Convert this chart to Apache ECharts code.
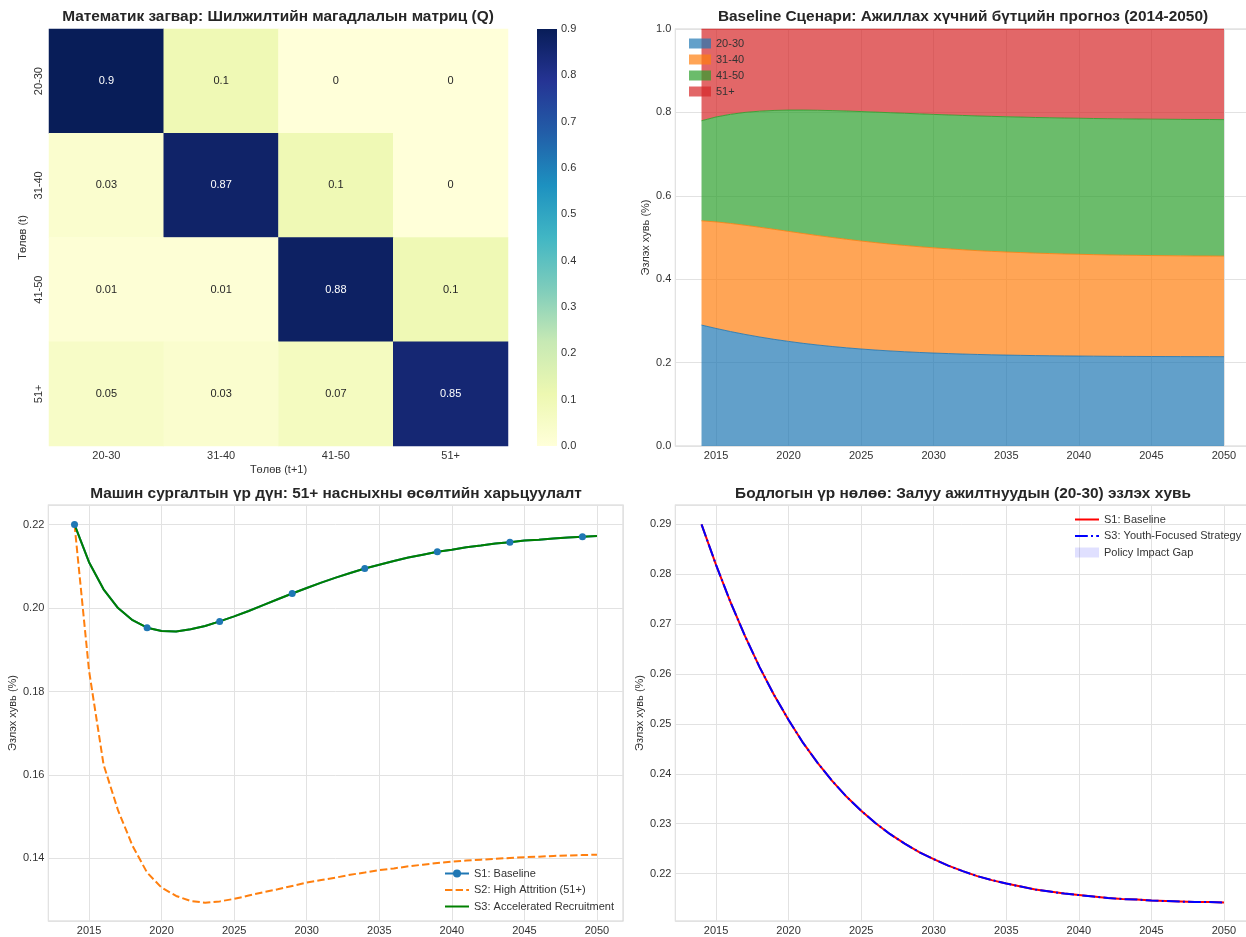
<!DOCTYPE html>
<html>
<head>
<meta charset="utf-8">
<script src="https://cdn.jsdelivr.net/npm/echarts@6/dist/echarts.min.js"></script>
<style>
  html, body { margin: 0; padding: 0; background: #fff; }
  #chart { width: 1246px; height: 937px; }
</style>
</head>
<body>
<div id="chart"></div>
<script>
// ---- data ----
const ageGroups = ['20-30', '31-40', '41-50', '51+'];
const qMatrix = [
  [0.9, 0.1, 0, 0],
  [0.03, 0.87, 0.1, 0],
  [0.01, 0.01, 0.88, 0.1],
  [0.05, 0.03, 0.07, 0.85]
];
const colorbarRange = [0, 0.9];

const years = [2014, 2015, 2016, 2017, 2018, 2019, 2020, 2021, 2022, 2023, 2024, 2025, 2026,
  2027, 2028, 2029, 2030, 2031, 2032, 2033, 2034, 2035, 2036, 2037, 2038, 2039, 2040, 2041,
  2042, 2043, 2044, 2045, 2046, 2047, 2048, 2049, 2050];

// baseline composition
const share2030 = [0.2900, 0.2819, 0.2744, 0.2676, 0.2614, 0.2558, 0.2508, 0.2462, 0.2422, 0.2386,
  0.2354, 0.2326, 0.2301, 0.2279, 0.2260, 0.2243, 0.2229, 0.2216, 0.2205, 0.2195, 0.2187, 0.2180,
  0.2174, 0.2168, 0.2164, 0.2160, 0.2157, 0.2154, 0.2151, 0.2149, 0.2148, 0.2146, 0.2145, 0.2144,
  0.2143, 0.2143, 0.2142];
const share3140 = [0.2500, 0.2555, 0.2593, 0.2618, 0.2632, 0.2639, 0.2638, 0.2634, 0.2625, 0.2615,
  0.2603, 0.2589, 0.2576, 0.2562, 0.2549, 0.2536, 0.2523, 0.2512, 0.2501, 0.2490, 0.2481, 0.2472,
  0.2465, 0.2457, 0.2451, 0.2445, 0.2440, 0.2435, 0.2431, 0.2427, 0.2424, 0.2421, 0.2419, 0.2416,
  0.2414, 0.2413, 0.2411];
const share4150 = [0.2400, 0.2516, 0.2617, 0.2706, 0.2783, 0.2850, 0.2909, 0.2960, 0.3004, 0.3042,
  0.3076, 0.3105, 0.3130, 0.3151, 0.3170, 0.3186, 0.3200, 0.3211, 0.3221, 0.3230, 0.3237, 0.3244,
  0.3249, 0.3253, 0.3257, 0.3260, 0.3263, 0.3265, 0.3267, 0.3269, 0.3270, 0.3271, 0.3272, 0.3273,
  0.3273, 0.3274, 0.3274];
const share51 = [0.2200, 0.2110, 0.2045, 0.2000, 0.1971, 0.1953, 0.1945, 0.1944, 0.1949, 0.1957,
  0.1968, 0.1980, 0.1993, 0.2007, 0.2021, 0.2035, 0.2048, 0.2061, 0.2073, 0.2084, 0.2095, 0.2104,
  0.2113, 0.2121, 0.2128, 0.2135, 0.2140, 0.2146, 0.2150, 0.2155, 0.2158, 0.2162, 0.2164, 0.2167,
  0.2169, 0.2171, 0.2173];

// 51+ scenarios
const s1Share51 = share51;
const s2HighAttrition = [0.2200, 0.1850, 0.1625, 0.1515, 0.1430, 0.1366, 0.1330, 0.1310, 0.1298,
  0.1294, 0.1297, 0.1303, 0.1311, 0.1319, 0.1326, 0.1334, 0.1342, 0.1348, 0.1354, 0.1361, 0.1366,
  0.1372, 0.1376, 0.1381, 0.1385, 0.1389, 0.1392, 0.1395, 0.1397, 0.1399, 0.1401, 0.1403, 0.1404,
  0.1406, 0.1407, 0.1408, 0.1409];
const s3Recruit = [0.2200, 0.2110, 0.2045, 0.2000, 0.1971, 0.1953, 0.1945, 0.1944, 0.1949, 0.1957,
  0.1968, 0.1980, 0.1993, 0.2007, 0.2021, 0.2035, 0.2048, 0.2061, 0.2073, 0.2084, 0.2095, 0.2104,
  0.2113, 0.2121, 0.2128, 0.2135, 0.2140, 0.2146, 0.2150, 0.2155, 0.2158, 0.2162, 0.2164, 0.2167,
  0.2169, 0.2171, 0.2173];

// 20-30 scenarios
const s1Youth = share2030;
const s3Youth = [0.2900, 0.2819, 0.2744, 0.2676, 0.2614, 0.2558, 0.2508, 0.2462, 0.2422, 0.2386,
  0.2354, 0.2326, 0.2301, 0.2279, 0.2260, 0.2243, 0.2229, 0.2216, 0.2205, 0.2195, 0.2187, 0.2180,
  0.2174, 0.2168, 0.2164, 0.2160, 0.2157, 0.2154, 0.2151, 0.2149, 0.2148, 0.2146, 0.2145, 0.2144,
  0.2143, 0.2143, 0.2142];

// ---- styles ----
const FONT = 'Liberation Sans, Arial, sans-serif';
const TXT = '#333333';
const ylgnbu = ['#ffffd9', '#edf8b1', '#c7e9b4', '#7fcdbb', '#41b6c4', '#1d91c0', '#225ea8', '#253494', '#081d58'];
const tab = { blue: '#1f77b4', orange: '#ff7f0e', green: '#2ca02c', red: '#d62728' };
const legendNames = {
  's1_51': 'S1: Baseline', 's2_51': 'S2: High Attrition (51+)', 's3_51': 'S3: Accelerated Recruitment',
  's1_y': 'S1: Baseline', 's3_y': 'S3: Youth-Focused Strategy', 'gap': 'Policy Impact Gap'
};

const pairs = ys => years.map((y, i) => [y, ys[i]]);
// value first, year second: lets the stack run on the y values
const stackPairs = ys => years.map((y, i) => [ys[i], y]);
const onStep = (v, step) => Math.abs(v / step - Math.round(v / step)) < 1e-6;

function yearAxis(gi) {
  return {
    type: 'value', gridIndex: gi, min: 2012.2, max: 2051.8, splitNumber: 8,
    axisLine: { show: false }, axisTick: { show: false },
    axisLabel: { fontSize: 11, color: TXT, fontFamily: FONT, margin: 4,
      formatter: v => onStep(v, 5) ? String(Math.round(v)) : '' },
    splitLine: { lineStyle: { color: '#e2e2e2', width: 1 } }
  };
}
function shareAxis(gi, min, max, split, step, digits) {
  return {
    type: 'value', gridIndex: gi, min: min, max: max, splitNumber: split,
    name: 'Эзлэх хувь (%)', nameLocation: 'middle', nameGap: 30,
    nameTextStyle: { fontSize: 11, color: TXT, fontFamily: FONT },
    axisLine: { show: false }, axisTick: { show: false },
    axisLabel: { fontSize: 11, color: TXT, fontFamily: FONT, margin: 4,
      formatter: v => onStep(v, step) ? v.toFixed(digits) : '' },
    splitLine: { lineStyle: { color: '#e2e2e2', width: 1 } }
  };
}
const frame = { show: true, borderColor: '#d4d4d4', borderWidth: 1.2, backgroundColor: '#fff', outerBoundsMode: 'none' };

const chart = echarts.init(document.getElementById('chart'), null, { renderer: 'canvas' });

const heatData = [];
qMatrix.forEach((row, r) => row.forEach((v, c) => {
  heatData.push({ value: [c, r, v], label: { color: v > 0.5 ? '#ffffff' : '#262626' } });
}));

const stackSeries = [share2030, share3140, share4150, share51].map((arr, i) => {
  const col = [tab.blue, tab.orange, tab.green, tab.red][i];
  return {
    name: ageGroups[i], type: 'line', xAxisIndex: 2, yAxisIndex: 2, stack: 'total',
    data: stackPairs(arr), encode: { x: 1, y: 0 }, symbol: 'none',
    lineStyle: { width: 1, color: col, opacity: 0.85 },
    itemStyle: { color: col },
    areaStyle: { color: col, opacity: 0.7 }
  };
});

const gapBase = s3Youth.map((v, i) => Math.min(v, s1Youth[i]));
const gapBand = s3Youth.map((v, i) => Math.abs(s1Youth[i] - v));

const titles = [
  { x: 278, y: 17, t: 'Математик загвар: Шилжилтийн магадлалын матриц (Q)' },
  { x: 963, y: 17, t: 'Baseline Сценари: Ажиллах хүчний бүтцийн прогноз (2014-2050)' },
  { x: 336, y: 494, t: 'Машин сургалтын үр дүн: 51+ насныхны өсөлтийн харьцуулалт' },
  { x: 963, y: 494, t: 'Бодлогын үр нөлөө: Залуу ажилтнуудын (20-30) эзлэх хувь' }
];
const noDot = { opacity: 0 };

const option = {
  animation: false,
  backgroundColor: '#ffffff',
  textStyle: { fontFamily: FONT },
  graphic: titles.map(o => ({
    type: 'text', x: o.x, y: o.y,
    style: { text: o.t, fill: '#262626', font: 'bold 15.4px ' + FONT, textAlign: 'center', textVerticalAlign: 'middle' }
  })),
  grid: [
    { left: 49, top: 29, width: 459, height: 417, outerBoundsMode: 'none' },
    { left: 537, top: 29, width: 20, height: 417, outerBoundsMode: 'none' },
    Object.assign({ left: 675.4, top: 29, width: 574.7, height: 417 }, frame),
    Object.assign({ left: 48.4, top: 505, width: 574.7, height: 416 }, frame),
    Object.assign({ left: 675.4, top: 505, width: 574.7, height: 416 }, frame)
  ],
  visualMap: [{
    show: false, seriesIndex: 0, min: colorbarRange[0], max: colorbarRange[1],
    inRange: { color: ylgnbu }
  }],
  legend: [
    {
      orient: 'vertical', left: 684, top: 33, itemWidth: 22, itemHeight: 10, itemGap: 5,
      textStyle: { fontSize: 11, color: TXT, fontFamily: FONT },
      data: ageGroups.map((g, i) => ({
        name: g, icon: 'rect',
        itemStyle: { color: [tab.blue, tab.orange, tab.green, tab.red][i], opacity: 0.7 }
      }))
    },
    {
      orient: 'vertical', left: 439, top: 863, itemWidth: 24, itemHeight: 10, itemGap: 5.5,
      textStyle: { fontSize: 11, color: TXT, fontFamily: FONT },
      formatter: n => legendNames[n],
      data: ['s1_51', { name: 's2_51', itemStyle: noDot }, { name: 's3_51', itemStyle: noDot }]
    },
    {
      orient: 'vertical', left: 1069, top: 509, itemWidth: 24, itemHeight: 10, itemGap: 5.5,
      textStyle: { fontSize: 11, color: TXT, fontFamily: FONT },
      formatter: n => legendNames[n],
      data: [{ name: 's1_y', itemStyle: noDot }, { name: 's3_y', itemStyle: noDot },
        { name: 'gap', icon: 'rect', itemStyle: { color: 'rgba(0,0,255,0.12)' } }]
    }
  ],
  xAxis: [
    {
      type: 'category', gridIndex: 0, data: ageGroups,
      name: 'Төлөв (t+1)', nameLocation: 'middle', nameGap: 18,
      nameTextStyle: { fontSize: 11, color: TXT },
      axisLine: { show: false }, axisTick: { show: false }, splitLine: { show: false },
      axisLabel: { fontSize: 11, color: TXT, margin: 4 }
    },
    { type: 'category', gridIndex: 1, data: ['cb'], show: false },
    yearAxis(2),
    yearAxis(3),
    yearAxis(4)
  ],
  yAxis: [
    {
      type: 'category', gridIndex: 0, data: ageGroups, inverse: true,
      name: 'Төлөв (t)', nameLocation: 'middle', nameGap: 21,
      nameTextStyle: { fontSize: 11, color: TXT },
      axisLine: { show: false }, axisTick: { show: false }, splitLine: { show: false },
      axisLabel: { fontSize: 11, color: TXT, rotate: 90, margin: 5 }
    },
    {
      type: 'value', gridIndex: 1, position: 'right', min: colorbarRange[0], max: colorbarRange[1], interval: 0.1,
      axisLine: { show: false }, axisTick: { show: false }, splitLine: { show: false },
      axisLabel: { fontSize: 11, color: TXT, margin: 4, formatter: v => v.toFixed(1) }
    },
    Object.assign(shareAxis(2, 0, 1, 5, 0.2, 1), { interval: 0.2, nameGap: 24 }),
    shareAxis(3, 0.1250, 0.2247, 5, 0.02, 2),
    shareAxis(4, 0.2105, 0.2939, 8, 0.01, 2)
  ],
  series: [
    {
      type: 'heatmap', name: 'Q', xAxisIndex: 0, yAxisIndex: 0, data: heatData,
      label: { show: true, fontSize: 11, formatter: p => String(p.value[2]) },
      itemStyle: { borderWidth: 0 },
      emphasis: { disabled: true }
    },
    {
      type: 'bar', name: 'colorbar', xAxisIndex: 1, yAxisIndex: 1, data: [colorbarRange[1]],
      barWidth: '100%', silent: true,
      itemStyle: {
        color: new echarts.graphic.LinearGradient(0, 1, 0, 0,
          ylgnbu.map((c, i) => ({ offset: i / (ylgnbu.length - 1), color: c })))
      }
    },
    ...stackSeries,
    {
      name: 's1_51', type: 'line', xAxisIndex: 3, yAxisIndex: 3,
      data: pairs(s1Share51).map((p, i) => i % 5 === 0 ? { value: p } : { value: p, symbol: 'none' }),
      symbol: 'circle', symbolSize: 7, showAllSymbol: true,
      lineStyle: { width: 2, color: tab.blue }, itemStyle: { color: tab.blue }
    },
    {
      name: 's2_51', type: 'line', xAxisIndex: 3, yAxisIndex: 3, data: pairs(s2HighAttrition),
      symbol: 'none',
      lineStyle: { width: 2, color: tab.orange, type: [7.4, 3.2] }, itemStyle: { color: tab.orange }
    },
    {
      name: 's3_51', type: 'line', xAxisIndex: 3, yAxisIndex: 3, data: pairs(s3Recruit),
      symbol: 'none',
      lineStyle: { width: 2, color: 'green' }, itemStyle: { color: 'green' }
    },
    {
      name: 's1_y', type: 'line', xAxisIndex: 4, yAxisIndex: 4, data: pairs(s1Youth),
      symbol: 'none',
      lineStyle: { width: 2, color: 'red' }, itemStyle: { color: 'red' }
    },
    {
      name: 'gapBase', type: 'line', xAxisIndex: 4, yAxisIndex: 4, stack: 'gap',
      data: stackPairs(gapBase), encode: { x: 1, y: 0 },
      symbol: 'none', lineStyle: { opacity: 0 }, silent: true
    },
    {
      name: 'gap', type: 'line', xAxisIndex: 4, yAxisIndex: 4, stack: 'gap',
      data: stackPairs(gapBand), encode: { x: 1, y: 0 },
      symbol: 'none', lineStyle: { opacity: 0 }, silent: true,
      itemStyle: { color: 'rgba(0,0,255,0.12)' },
      areaStyle: { color: 'rgba(0,0,255,0.1)', origin: 'start' }
    },
    {
      name: 's3_y', type: 'line', xAxisIndex: 4, yAxisIndex: 4, data: pairs(s3Youth),
      symbol: 'none',
      lineStyle: { width: 2, color: 'blue', type: [12.8, 3.2, 2, 3.2] }, itemStyle: { color: 'blue' }
    }
  ]
};

chart.setOption(option);
</script>
</body>
</html>
